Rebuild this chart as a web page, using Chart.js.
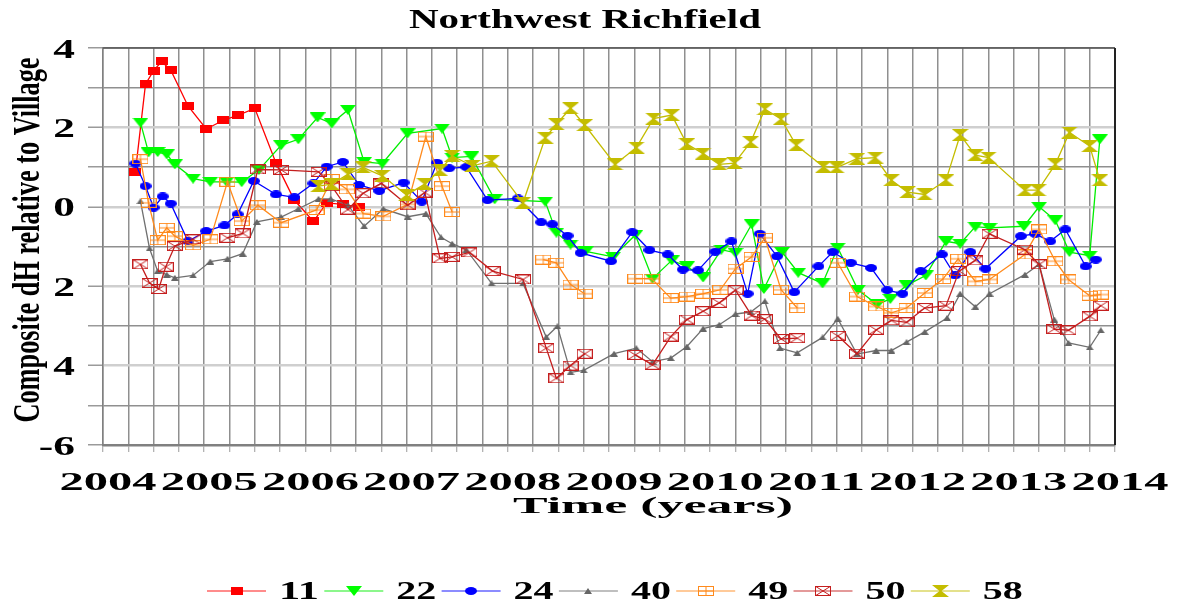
<!DOCTYPE html>
<html>
<head>
<meta charset="utf-8">
<title>Northwest Richfield</title>
<script src="https://cdn.jsdelivr.net/npm/chart.js@4.4.1/dist/chart.umd.min.js"></script>
<style>
  html, body { margin: 0; padding: 0; background: #fff; }
  #wrap { width: 1183px; height: 607px; }
</style>
</head>
<body>
<div id="wrap"><canvas id="chart" width="1183" height="607"></canvas></div>
<script>
// benchmark names and survey dates (decimal years) / composite dH values
const seriesNames = ["11", "22", "24", "40", "49", "50", "58"];
const yearLabels = ["2004", "2005", "2006", "2007", "2008", "2009", "2010", "2011", "2012", "2013", "2014"];
const yTickValues = [4, 2, 0, -2, -4, -6];

const t11 = [2004.32,2004.42,2004.50,2004.58,2004.67,2004.84,2005.02,2005.19,2005.33,2005.50,2005.71,2005.89,2006.08,2006.21,2006.37,2006.53];
const v11 = [0.88,3.09,3.43,3.66,3.44,2.54,1.96,2.18,2.30,2.48,1.10,0.17,-0.37,0.10,0.06,-0.01];

const t22 = [2004.37,2004.45,2004.54,2004.63,2004.71,2004.89,2005.06,2005.22,2005.37,2005.54,2005.76,2005.93,2006.12,2006.26,2006.42,2006.58,2006.76,2007.01,2007.35,2007.45,2007.64,2007.87,2008.37,2008.48,2008.62,2008.77,2009.04,2009.26,2009.43,2009.62,2009.77,2009.93,2010.11,2010.25,2010.41,2010.53,2010.71,2010.87,2011.11,2011.26,2011.46,2011.65,2011.78,2011.94,2012.13,2012.33,2012.47,2012.62,2012.76,2013.10,2013.25,2013.41,2013.55,2013.75,2013.85];
const v22 = [2.12,1.37,1.38,1.32,1.07,0.71,0.63,0.63,0.62,0.93,1.55,1.70,2.25,2.10,2.44,1.13,1.09,1.85,1.97,1.24,1.27,0.19,0.13,-0.65,-0.95,-1.12,-1.26,-0.71,-1.81,-1.35,-1.50,-1.78,-1.08,-1.16,-0.44,-2.07,-1.14,-1.66,-1.93,-1.03,-2.09,-2.46,-2.32,-1.98,-1.73,-0.87,-0.93,-0.50,-0.53,-0.49,0.00,-0.34,-1.14,-1.23,1.70];

const t24 = [2004.32,2004.42,2004.50,2004.59,2004.67,2004.84,2005.02,2005.20,2005.33,2005.49,2005.71,2005.89,2006.08,2006.21,2006.37,2006.53,2006.73,2006.97,2007.15,2007.30,2007.42,2007.59,2007.80,2008.10,2008.33,2008.44,2008.59,2008.72,2009.02,2009.23,2009.40,2009.58,2009.73,2009.88,2010.05,2010.21,2010.37,2010.49,2010.66,2010.83,2011.07,2011.21,2011.39,2011.59,2011.75,2011.90,2012.08,2012.29,2012.42,2012.57,2012.72,2013.07,2013.21,2013.36,2013.51,2013.71,2013.81];
const v24 = [1.09,0.52,-0.02,0.26,0.08,-0.87,-0.61,-0.47,-0.19,0.65,0.31,0.24,0.59,1.01,1.13,0.55,0.40,0.61,0.13,1.11,0.97,1.00,0.17,0.21,-0.39,-0.44,-0.73,-1.16,-1.37,-0.64,-1.09,-1.20,-1.58,-1.60,-1.13,-0.87,-2.19,-0.68,-1.25,-2.15,-1.50,-1.14,-1.41,-1.54,-2.10,-2.19,-1.62,-1.20,-1.73,-1.14,-1.56,-0.74,-0.68,-0.87,-0.57,-1.50,-1.33];

const t40 = [2004.37,2004.46,2004.54,2004.63,2004.71,2004.89,2005.06,2005.23,2005.38,2005.52,2005.76,2005.93,2006.13,2006.25,2006.42,2006.58,2006.77,2007.01,2007.19,2007.34,2007.45,2007.59,2007.84,2008.15,2008.38,2008.49,2008.62,2008.75,2009.05,2009.27,2009.43,2009.61,2009.77,2009.93,2010.09,2010.25,2010.40,2010.54,2010.69,2010.86,2011.11,2011.26,2011.45,2011.64,2011.79,2011.94,2012.12,2012.34,2012.47,2012.62,2012.76,2013.11,2013.25,2013.40,2013.54,2013.75,2013.86];
const v40 = [0.14,-1.05,-1.62,-1.71,-1.79,-1.73,-1.38,-1.31,-1.18,-0.38,-0.26,-0.05,0.20,0.20,0.04,-0.49,-0.05,-0.25,-0.17,-0.77,-0.93,-1.08,-1.93,-1.93,-3.28,-3.01,-4.17,-4.12,-3.70,-3.56,-3.90,-3.81,-3.52,-3.07,-2.97,-2.70,-2.65,-2.38,-3.56,-3.68,-3.29,-2.82,-3.71,-3.62,-3.62,-3.41,-3.15,-2.80,-2.19,-2.52,-2.19,-1.71,-1.45,-2.84,-3.43,-3.54,-3.11];

// null = survey missing for this benchmark (line is broken there)
const t49 = [2004.37,2004.45,2004.54,2004.63,2004.71,2004.89,2005.06,2005.23,2005.37,2005.53,2005.76,2006.11,2006.26,2006.41,2006.57,2006.77,2007.01,2007.19,2007.35,2007.45,2007.84,2008.35,2008.48,2008.62,2008.76,2009.05,2009.26,2009.42,2009.61,2009.77,2009.93,2010.10,2010.25,2010.41,2010.54,2010.70,2010.86,2011.11,2011.26,2011.45,2011.64,2011.79,2011.94,2012.12,2012.30,2012.45,2012.62,2012.76,2013.11,2013.25,2013.41,2013.54,2013.75,2013.86];
const v49 = [1.20,0.10,-0.84,-0.53,-0.74,-0.97,-0.82,0.63,-0.36,0.04,-0.40,-0.08,0.70,0.44,-0.17,-0.24,0.06,1.77,0.52,-0.13,null,-1.33,-1.41,-1.96,-2.19,null,-1.81,-1.81,-2.30,-2.26,-2.19,-2.09,-1.56,-1.26,-0.78,-2.09,-2.55,null,-1.41,-2.26,-2.51,-2.67,-2.55,-2.17,-1.82,-1.31,-1.88,-1.83,-1.20,-0.57,-1.37,-1.83,-2.24,-2.21];

const t50 = [2004.37,2004.46,2004.55,2004.62,2004.71,2004.89,2005.06,2005.23,2005.38,2005.53,2005.76,2006.13,2006.26,2006.42,2006.57,2006.75,2007.01,2007.18,2007.33,2007.45,2007.62,2007.85,2008.15,2008.38,2008.48,2008.62,2008.76,2009.05,2009.26,2009.43,2009.61,2009.77,2009.93,2010.09,2010.25,2010.41,2010.54,2010.70,2010.86,2011.11,2011.26,2011.45,2011.64,2011.79,2011.94,2012.12,2012.33,2012.46,2012.62,2012.76,2013.11,2013.25,2013.40,2013.54,2013.75,2013.86];
const v50 = [-1.45,-1.92,-2.07,-1.51,-0.99,-0.82,null,-0.78,-0.67,0.94,0.93,0.88,0.52,-0.07,0.34,0.59,0.04,0.36,-1.30,-1.26,-1.15,-1.62,-1.83,-3.56,-4.32,-4.00,-3.70,null,-3.73,-3.98,-3.27,-2.84,-2.63,-2.42,-2.10,-2.74,-2.83,-3.33,-3.31,null,-3.25,-3.70,-3.10,-2.86,-2.91,-2.55,-2.49,-1.62,-1.35,-0.68,-1.08,-1.45,-3.08,-3.11,-2.76,-2.49];

const t58 = [2006.13,2006.26,2006.42,2006.57,2006.76,2007.00,2007.18,2007.33,2007.45,2007.65,2007.84,2008.15,2008.37,2008.48,2008.62,2008.76,2009.06,2009.27,2009.44,2009.62,2009.77,2009.93,2010.09,2010.24,2010.40,2010.54,2010.70,2010.85,2011.12,2011.25,2011.45,2011.63,2011.79,2011.95,2012.12,2012.33,2012.47,2012.62,2012.75,2013.11,2013.24,2013.41,2013.55,2013.75,2013.85];
const v58 = [0.52,0.57,0.82,0.99,0.78,0.30,0.57,0.92,1.28,1.03,1.15,0.10,1.74,2.08,2.48,2.06,1.07,1.49,2.22,2.31,1.58,1.34,1.07,1.10,1.63,2.46,2.21,1.55,1.01,0.99,1.21,1.24,0.67,0.37,0.31,0.67,1.81,1.30,1.24,0.42,0.42,1.07,1.87,1.53,0.67];

const FONT = '"Liberation Serif", "Times New Roman", serif';

function pts(t, v) {
  return t.map((x, i) => ({ x: x, y: v[i] }));
}

// small offscreen canvases used as point markers
function marker(w, h, draw) {
  const c = document.createElement("canvas");
  c.width = w; c.height = h;
  draw(c.getContext("2d"), w, h);
  return c;
}

const mk11 = marker(12, 8, (g, w, h) => { g.fillStyle = "#ff0000"; g.fillRect(0, 0, w, h); });
const mk22 = marker(16, 10, (g, w, h) => {
  g.fillStyle = "#00ff00"; g.beginPath(); g.moveTo(0, 0); g.lineTo(w, 0); g.lineTo(w / 2, h); g.closePath(); g.fill();
});
const mk24 = marker(12, 8, (g, w, h) => {
  g.fillStyle = "#0000ff"; g.beginPath(); g.ellipse(w / 2, h / 2, w / 2, h / 2, 0, 0, Math.PI * 2); g.fill();
});
const mk40 = marker(8, 6, (g, w, h) => {
  g.fillStyle = "#666666"; g.beginPath(); g.moveTo(w / 2, 0); g.lineTo(w, h); g.lineTo(0, h); g.closePath(); g.fill();
});
const mk49 = marker(16, 10, (g, w, h) => {
  g.strokeStyle = "#ff8a1c"; g.lineWidth = 1;
  g.strokeRect(0.5, 0.5, w - 1, h - 1);
  g.beginPath(); g.moveTo(w / 2, 0); g.lineTo(w / 2, h); g.moveTo(0, h / 2); g.lineTo(w, h / 2); g.stroke();
});
const mk50 = marker(16, 10, (g, w, h) => {
  g.strokeStyle = "#c41e1e"; g.lineWidth = 1;
  g.strokeRect(0.5, 0.5, w - 1, h - 1);
  g.beginPath(); g.moveTo(0, 0); g.lineTo(w, h); g.moveTo(w, 0); g.lineTo(0, h); g.stroke();
});
const mk58 = marker(17, 12, (g, w, h) => {
  g.fillStyle = "#c4bd00"; g.beginPath();
  g.moveTo(0, 0); g.lineTo(w, 0); g.lineTo(w / 2 + 1, h / 2); g.lineTo(w, h); g.lineTo(0, h); g.lineTo(w / 2 - 1, h / 2);
  g.closePath(); g.fill();
});

const seriesTimes = [t11, t22, t24, t40, t49, t50, t58];
const seriesValues = [v11, v22, v24, v40, v49, v50, v58];
const seriesColors = ["#ff0000", "#00ee00", "#0000ff", "#707070", "#ff8a1c", "#c41e1e", "#c4bd00"];
const seriesMarkers = [mk11, mk22, mk24, mk40, mk49, mk50, mk58];

const datasets = seriesNames.map((name, i) => ({
  label: name,
  data: pts(seriesTimes[i], seriesValues[i]),
  borderColor: seriesColors[i],
  backgroundColor: seriesColors[i],
  borderWidth: 1.3,
  pointStyle: seriesMarkers[i],
  pointRadius: 6,
  tension: 0,
  spanGaps: false,
  order: seriesNames.length - i
}));

// draw text squeezed / stretched horizontally like the original picture
function wideText(ctx, text, x, y, size, sx, align) {
  ctx.save();
  ctx.font = "bold " + size + "px " + FONT;
  ctx.textAlign = align;
  ctx.textBaseline = "alphabetic";
  ctx.fillStyle = "#000";
  ctx.translate(x, y);
  ctx.scale(sx, 1);
  ctx.fillText(text, 0, 0);
  ctx.restore();
}
function fitText(ctx, text, x, y, size, width, align) {
  ctx.font = "bold " + size + "px " + FONT;
  const w = ctx.measureText(text).width;
  wideText(ctx, text, x, y, size, width / w, align);
}

const decor = {
  id: "decor",
  beforeDatasetsDraw(chart) {
    const { ctx, chartArea: a } = chart;
    ctx.save();
    ctx.strokeStyle = "#555";
    ctx.lineWidth = 1.5;
    ctx.beginPath();
    ctx.moveTo(a.left, a.top); ctx.lineTo(a.right, a.top);
    ctx.stroke();
    ctx.strokeStyle = "#222";
    ctx.lineWidth = 2;
    ctx.beginPath();
    ctx.moveTo(a.right, a.top); ctx.lineTo(a.right, a.bottom);
    ctx.stroke();
    ctx.restore();
  },
  afterDraw(chart) {
    const { ctx } = chart;
    const xs = chart.scales.x, ys = chart.scales.y;

    // y tick labels
    yTickValues.forEach(v => {
      wideText(ctx, String(v), 75, ys.getPixelForValue(v) + 9.5, 28, 1.55, "right");
    });
    // x tick labels
    yearLabels.forEach(lbl => {
      fitText(ctx, lbl, xs.getPixelForValue(Number(lbl)) + 5, 490, 26, 97, "center");
    });

    // title and axis titles
    fitText(ctx, "Northwest Richfield", 585, 28, 28, 352, "center");
    fitText(ctx, "Time (years)", 653, 513, 24, 280, "center");

    ctx.save();
    ctx.fillStyle = "#fff";
    ctx.fillRect(10, 56, 42, 370);
    ctx.translate(38.5, 240);
    ctx.rotate(-Math.PI / 2);
    fitText(ctx, "Composite dH relative to Village", 0, 0, 37, 365, "center");
    ctx.restore();

    // legend
    seriesNames.forEach((name, i) => {
      const x0 = 207 + i * 117.3;
      const y0 = 591;
      ctx.save();
      ctx.globalAlpha = 0.45;
      ctx.strokeStyle = seriesColors[i];
      ctx.lineWidth = 2;
      ctx.beginPath();
      ctx.moveTo(x0, y0); ctx.lineTo(x0 + 59, y0);
      ctx.stroke();
      ctx.restore();
      const m = seriesMarkers[i];
      ctx.drawImage(m, Math.round(x0 + 29.5 - m.width / 2), Math.round(y0 - m.height / 2));
      fitText(ctx, name, x0 + 72, 599, 26, 40, "left");
    });
  }
};

const gridGray = "#8f8f8f";

const config = {
  type: "line",
  data: { datasets: datasets },
  options: {
    responsive: false,
    animation: false,
    layout: { padding: { left: 88, right: 68, top: 48, bottom: 155 } },
    plugins: {
      legend: { display: false },
      tooltip: { enabled: false },
      title: { display: false }
    },
    scales: {
      x: {
        type: "linear",
        min: 2004,
        max: 2014,
        ticks: { display: false, stepSize: 0.25 },
        grid: { color: gridGray, lineWidth: 1.5, drawTicks: true, tickLength: 7, tickColor: "#9a9a9a", tickWidth: 1 },
        border: { color: "#808080", width: 2.5 }
      },
      y: {
        type: "linear",
        min: -6,
        max: 4,
        ticks: { display: false, stepSize: 1 },
        grid: {
          color: c => (c.tick && c.tick.value % 2 === 0 && c.tick.value > -6 && c.tick.value < 4) ? "#cfcfcf" : gridGray,
          lineWidth: c => (c.tick && c.tick.value % 2 === 0 && c.tick.value > -6 && c.tick.value < 4) ? 2.5 : 1.5,
          drawTicks: true,
          tickLength: 15,
          tickColor: "#9a9a9a",
          tickWidth: 1.5
        },
        border: { color: "#808080", width: 1.5 }
      }
    }
  },
  plugins: [decor]
};

const ctx = document.getElementById("chart").getContext("2d");
const myChart = new Chart(ctx, config);
</script>
</body>
</html>
